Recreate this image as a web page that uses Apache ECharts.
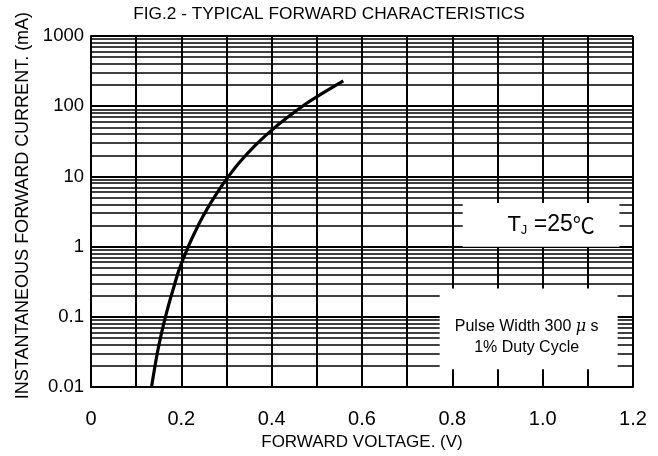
<!DOCTYPE html>
<html><head><meta charset="utf-8">
<script src="https://cdn.jsdelivr.net/npm/echarts@6/dist/echarts.min.js"></script>
<style>html,body{margin:0;padding:0;background:#fff}#c{width:658px;height:456px}</style>
</head><body><div id="c"></div>
<script>
// Forward characteristic curve (V, mA)
const voltage = [0.134, 0.1455, 0.1565, 0.1676, 0.1822, 0.1955, 0.2154, 0.2302, 0.2486, 0.2672, 0.2894, 0.3077, 0.3299, 0.3631, 0.4001, 0.4368, 0.4775, 0.4997, 0.5586];
const current = [0.01, 0.0275, 0.06, 0.117, 0.251, 0.479, 1.0, 1.62, 2.75, 4.42, 7.33, 10.7, 16.2, 27.5, 45.7, 70.8, 110, 136, 229];
// Tick labels
const xTickLabels = ['0', '0.2', '0.4', '0.6', '0.8', '1.0', '1.2'];
const yTickLabels = ['0.01', '0.1', '1', '10', '100', '1000'];
// Minor (log) grid values
const minorGridValues = [
  0.02, 0.03, 0.04, 0.05, 0.06, 0.07, 0.08, 0.09,
  0.2, 0.3, 0.4, 0.5, 0.6, 0.7, 0.8, 0.9,
  2, 3, 4, 5, 6, 7, 8, 9,
  20, 30, 40, 50, 60, 70, 80, 90,
  200, 300, 400, 500, 600, 700, 800, 900
];
// Texts
const titleText = 'FIG.2 - TYPICAL FORWARD CHARACTERISTICS';
const xName = 'FORWARD VOLTAGE. (V)';
const yName = 'INSTANTANEOUS FORWARD CURRENT. (mA)';
// Annotation boxes in data coordinates
const tempBox = { x: [0.823, 1.17], y: [1.0, 4.2] };
const pulseBox = { x: [0.772, 1.166], y: [0.018, 0.253] };

const FONT = '"Liberation Sans", Arial, sans-serif';
const chart = echarts.init(document.getElementById('c'), null, { renderer: 'canvas' });

const curveData = voltage.map((v, i) => [v, current[i]]);

chart.setOption({
  animation: false,
  backgroundColor: '#fff',
  title: {
    text: titleText, left: 'center', top: 6, padding: 0,
    textStyle: { fontFamily: FONT, fontSize: 17.3, fontWeight: 'normal', color: '#000' }
  },
  grid: { left: 91, right: 25, top: 36, bottom: 68 },
  xAxis: {
    type: 'value', min: 0, max: 1.2, interval: 0.1,
    name: xName, nameLocation: 'middle', nameGap: 38,
    nameTextStyle: { fontFamily: FONT, fontSize: 17, color: '#000' },
    axisLine: { lineStyle: { color: '#000', width: 2 } },
    axisTick: { show: false },
    splitLine: { show: true, lineStyle: { color: '#000', width: 2 } },
    axisLabel: {
      margin: 22, fontFamily: FONT, fontSize: 20, color: '#000',
      formatter: (v, i) => (i % 2 === 0 ? xTickLabels[i / 2] : '')
    }
  },
  yAxis: {
    type: 'log', logBase: 10, min: 0.01, max: 1000,
    name: yName, nameLocation: 'middle', nameGap: 57,
    nameTextStyle: { fontFamily: FONT, fontSize: 18, color: '#000', padding: [0, 0, 0, 12] },
    axisLine: { show: true, lineStyle: { color: '#000', width: 2 } },
    axisTick: { show: false },
    minorTick: { show: false },
    splitLine: { show: true, lineStyle: { color: '#000', width: 2 } },
    axisLabel: {
      margin: 7, fontFamily: FONT, fontSize: 18.5, color: '#000',
      formatter: (v, i) => yTickLabels[i]
    }
  },
  series: [
    {
      type: 'line', data: [], z: 1, silent: true,
      markLine: {
        silent: true, symbol: ['none', 'none'], z: 1,
        label: { show: false },
        lineStyle: { color: '#000', width: 1.5, type: 'solid' },
        emphasis: { disabled: true },
        data: minorGridValues.map(v => ({ yAxis: v }))
      }
    },
    {
      type: 'line', data: curveData, smooth: 0.3, showSymbol: false, z: 10,
      lineStyle: { color: '#000', width: 3.2 }
    }
  ]
});

function boxPx(b) {
  const a = chart.convertToPixel({ gridIndex: 0 }, [b.x[0], b.y[1]]);
  const c = chart.convertToPixel({ gridIndex: 0 }, [b.x[1], b.y[0]]);
  return { x: a[0], y: a[1], w: c[0] - a[0], h: c[1] - a[1] };
}
const tb = boxPx(tempBox);
const pb = boxPx(pulseBox);
const tcx = tb.x + tb.w / 2 + 10, tcy = tb.y + tb.h / 2;
const pcx = pb.x + pb.w / 2 - 2, pcy = pb.y + pb.h / 2;

chart.setOption({
  graphic: [
    { type: 'rect', z: 50, shape: { x: tb.x, y: tb.y, width: tb.w, height: tb.h }, style: { fill: '#fff' } },
    { type: 'rect', z: 50, shape: { x: pb.x, y: pb.y, width: pb.w, height: pb.h }, style: { fill: '#fff' } },
    {
      type: 'text', z: 60, x: tcx, y: tcy,
      style: {
        text: '{t|T}{j|J}{e| =25}{c|℃}',
        align: 'center', verticalAlign: 'middle',
        rich: {
          t: { fontFamily: FONT, fontSize: 22, fill: '#000' },
          j: { fontFamily: FONT, fontSize: 13, fill: '#000', padding: [12, 0, 0, 0] },
          e: { fontFamily: FONT, fontSize: 23, fill: '#000' },
          c: { fontFamily: '"Noto Sans CJK SC", ' + FONT, fontSize: 22, fill: '#000' }
        }
      }
    },
    {
      type: 'text', z: 60, x: pcx, y: pcy + 8,
      style: {
        text: '{n|Pulse Width 300 }{m|μ}{n| s}\n{n|1% Duty Cycle}',
        align: 'center', verticalAlign: 'middle',
        rich: {
          n: { fontFamily: FONT, fontSize: 16, fill: '#000', lineHeight: 21 },
          m: { fontFamily: '"DejaVu Serif", serif', fontStyle: 'italic', fontSize: 16, fill: '#000', lineHeight: 21 }
        }
      }
    }
  ]
});
</script>
</body></html>
